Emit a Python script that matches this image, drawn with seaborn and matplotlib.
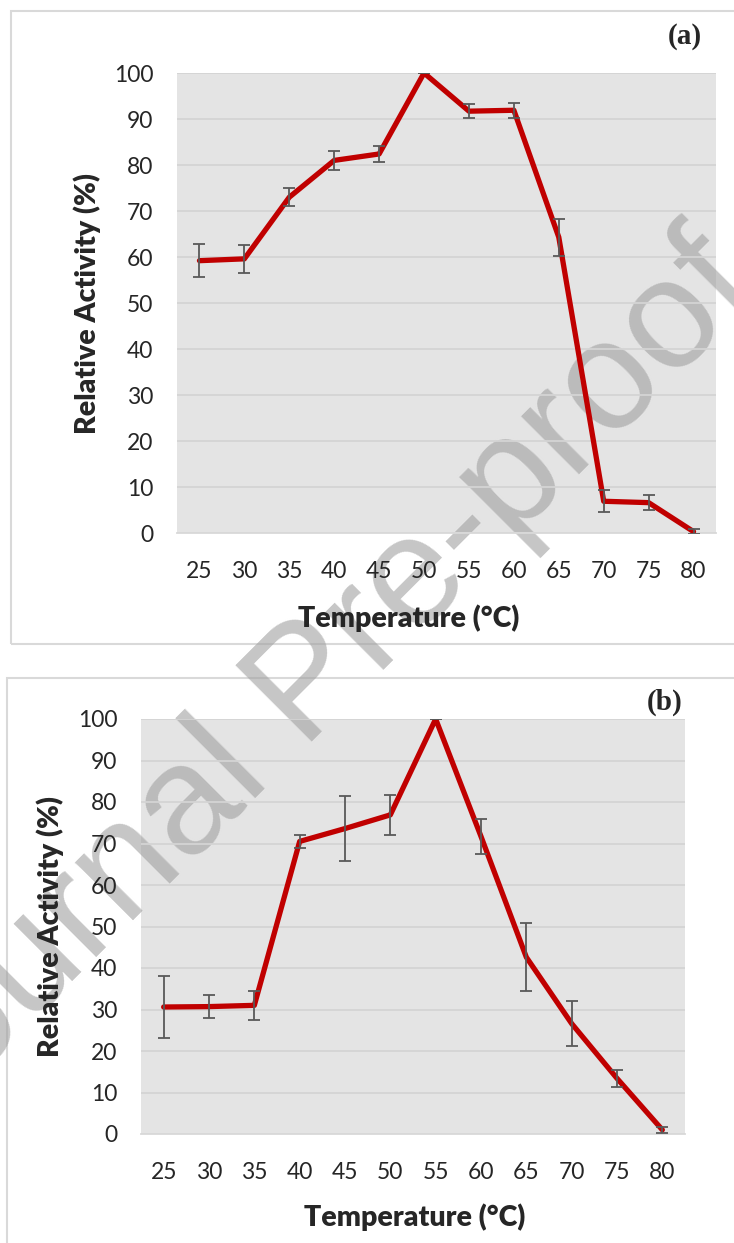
import numpy as np
import pandas as pd
import matplotlib
matplotlib.use("Agg")
import matplotlib.pyplot as plt
import seaborn as sns
from matplotlib.patches import Rectangle

# Data
temps = ["25", "30", "35", "40", "45", "50", "55", "60", "65", "70", "75", "80"]
act_a = [59.2, 59.6, 73.0, 81.0, 82.4, 100.0, 91.7, 91.9, 64.3, 6.9, 6.6, 0.3]
err_a = [3.6, 3.0, 1.9, 2.0, 1.7, 0.0, 1.5, 1.6, 4.0, 2.4, 1.6, 0.5]
act_b = [30.6, 30.7, 31.0, 70.5, 73.6, 76.9, 100.0, 71.7, 42.6, 26.6, 13.4, 1.0]
err_b = [7.4, 2.7, 3.5, 1.5, 7.8, 4.8, 0.0, 4.2, 8.2, 5.4, 2.0, 0.8]

sns.set_style("white")
plt.rcParams["font.family"] = ["Lato", "DejaVu Sans"]

fig = plt.figure(figsize=(7.34, 12.43), dpi=100)

# panel frames (light grey boxes around each chart)
fig.patches.append(Rectangle((11 / 734, 1 - 644 / 1243), 0.99, (644 - 11) / 1243,
                             transform=fig.transFigure, fill=False,
                             edgecolor="#d9d9d9", lw=1.5, zorder=-3))
fig.patches.append(Rectangle((7 / 734, -0.01), 0.995, 1 - 678 / 1243 + 0.01,
                             transform=fig.transFigure, fill=False,
                             edgecolor="#d9d9d9", lw=1.5, zorder=-3))

ax_a = fig.add_axes([177 / 734, 1 - 533 / 1243, 539 / 734, 460 / 1243])
ax_b = fig.add_axes([141 / 734, 1 - 1134 / 1243, 544 / 734, 415 / 1243])


def draw_panel(ax, act, err):
    # plot-area background drawn at figure level so the watermark sits above it
    fig.patches.append(Rectangle((0, 0), 1, 1, transform=ax.transAxes,
                                 facecolor="#e4e4e4", edgecolor="none",
                                 zorder=-2))
    ax.patch.set_visible(False)
    df = pd.DataFrame({"Temperature": temps, "Activity": act})
    sns.lineplot(data=df, x="Temperature", y="Activity", ax=ax, sort=False,
                 color="#c00000", lw=3.8, zorder=3)
    ax.errorbar(np.arange(len(temps)), act, yerr=err, fmt="none",
                ecolor="#595959", elinewidth=1.3, capsize=4.5, capthick=1.3,
                zorder=4)
    ax.set_xlim(-0.5, len(temps) - 0.5)
    ax.set_ylim(0, 100)
    ax.set_yticks(range(0, 101, 10))
    ax.yaxis.grid(True, color="#d4d4d4", lw=1.3)
    ax.set_axisbelow(True)
    for side in ["left", "right", "top"]:
        ax.spines[side].set_visible(False)
    ax.spines["bottom"].set_color("#d9d9d9")
    ax.spines["bottom"].set_linewidth(1.3)
    ax.set_xticks(np.arange(-0.5, len(temps)), minor=True)
    ax.tick_params(axis="x", which="minor", length=7, width=1.2,
                   color="#d9d9d9")
    ax.tick_params(axis="x", which="major", length=0, pad=20.5, labelsize=16.5)
    ax.tick_params(axis="y", length=0, pad=17, labelsize=16.5)
    ax.set_xlabel("Temperature (\u00b0C)", fontsize=20.5, fontweight="heavy",
                  va="center")
    ax.set_ylabel("Relative Activity (%)", fontsize=20.5, fontweight="heavy",
                  va="center")


draw_panel(ax_a, act_a, err_a)
draw_panel(ax_b, act_b, err_b)
ax_a.xaxis.set_label_coords(0.430, -0.185)
ax_a.yaxis.set_label_coords(-0.167, 0.498)
ax_b.xaxis.set_label_coords(0.503, -0.200)
ax_b.yaxis.set_label_coords(-0.167, 0.500)

fig.text(685 / 734, 1 - 36 / 1243, "(a)", family="Liberation Serif",
         fontweight="bold", fontsize=21, ha="center", va="center")
fig.text(665 / 734, 1 - 702 / 1243, "(b)", family="Liberation Serif",
         fontweight="bold", fontsize=21, ha="center", va="center")

# watermark
fig.text(308 / 734, 1 - 688 / 1243, "Journal Pre-proof", family="Liberation Sans",
         fontsize=112, rotation=45, color="#a0a0a0", alpha=0.6,
         ha="center", va="center", rotation_mode="anchor", zorder=-1)

fig.savefig("out.png", dpi=100)
